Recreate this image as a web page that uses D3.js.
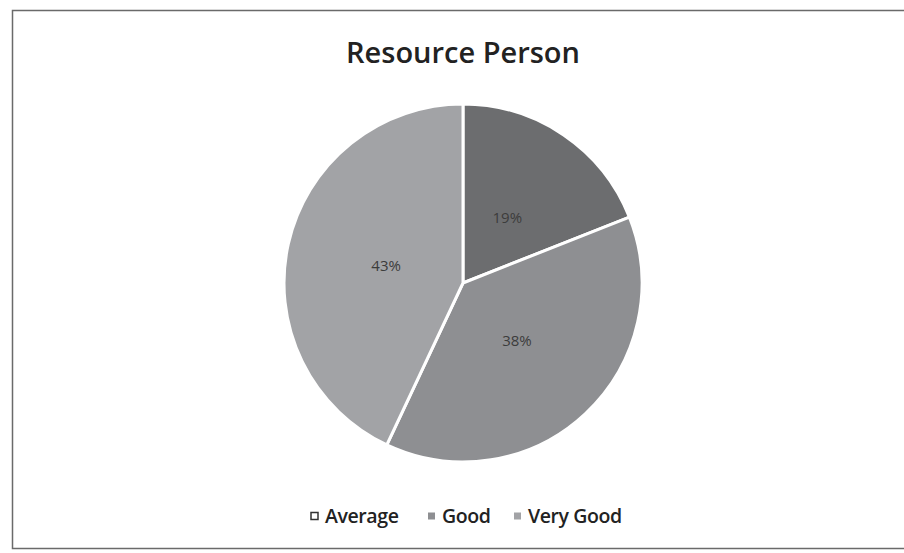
<!DOCTYPE html>
<html>
<head>
<meta charset="utf-8">
<script src="https://cdn.jsdelivr.net/npm/d3@7"></script>
<style>
  body { margin: 0; background: #fff; }
  svg { display: block; }
</style>
</head>
<body>
<div id="chart"></div>
<script>
var categories = ["Average", "Good", "Very Good"];
var values = [19, 38, 43];
var sliceColors = ["#6c6d6f", "#8e8f92", "#a2a3a6"];

var w = 904, h = 553;
var cx = 463, cy = 283, r = 179;

var svg = d3.select("#chart").append("svg")
    .attr("width", w)
    .attr("height", h);

// chart frame
svg.append("rect")
    .attr("x", 12.5).attr("y", 10.5)
    .attr("width", 900).attr("height", 538)
    .attr("fill", "#fff")
    .attr("stroke", "#6a6a6a")
    .attr("stroke-width", 1.5);

svg.append("text")
    .attr("x", cx).attr("y", 63)
    .attr("text-anchor", "middle")
    .style("font-family", "'Open Sans', 'Noto Sans', sans-serif")
    .style("font-size", "29px")
    .style("font-weight", 600)
    .attr("fill", "#222")
    .text("Resource Person");

var color = d3.scaleOrdinal().domain(categories).range(sliceColors);
var pie = d3.pie().sort(null).value(function(d) { return d.value; });
var data = categories.map(function(c, i) { return { name: c, value: values[i] }; });
var arc = d3.arc().innerRadius(0).outerRadius(r);
var labelArc = d3.arc().innerRadius(r * 0.44).outerRadius(r * 0.44);
var total = d3.sum(values);

var g = svg.append("g").attr("transform", "translate(" + cx + "," + cy + ")");

g.selectAll("path")
  .data(pie(data))
  .enter().append("path")
    .attr("d", arc)
    .attr("fill", function(d) { return color(d.data.name); })
    .attr("stroke", "#fff")
    .attr("stroke-width", 3);

g.selectAll("text.lbl")
  .data(pie(data))
  .enter().append("text")
    .attr("class", "lbl")
    .attr("transform", function(d) { return "translate(" + labelArc.centroid(d) + ")"; })
    .attr("dy", ".35em")
    .attr("text-anchor", "middle")
    .style("font-family", "'Open Sans', 'Noto Sans', sans-serif")
    .style("font-size", "15px")
    .attr("fill", "#3c3c3c")
    .text(function(d) { return Math.round(d.data.value / total * 100) + "%"; });

// legend
var legendX = [311, 428, 514];
var legend = svg.append("g").attr("transform", "translate(0,516)");
var item = legend.selectAll("g")
  .data(categories)
  .enter().append("g")
    .attr("transform", function(d, i) { return "translate(" + legendX[i] + ",0)"; });

item.append("rect")
    .attr("x", 0).attr("y", -3.5)
    .attr("width", 7).attr("height", 7)
    .attr("fill", function(d, i) { return i === 0 ? "#fff" : color(d); })
    .attr("stroke", function(d, i) { return i === 0 ? "#333" : "none"; })
    .attr("stroke-width", 1.5);

item.append("text")
    .attr("x", 14).attr("dy", ".35em")
    .style("font-family", "'Open Sans', 'Noto Sans', sans-serif")
    .style("font-size", "19.5px")
    .style("font-weight", 600)
    .style("letter-spacing", "-0.4px")
    .attr("fill", "#222")
    .text(function(d) { return d; });
</script>
</body>
</html>
